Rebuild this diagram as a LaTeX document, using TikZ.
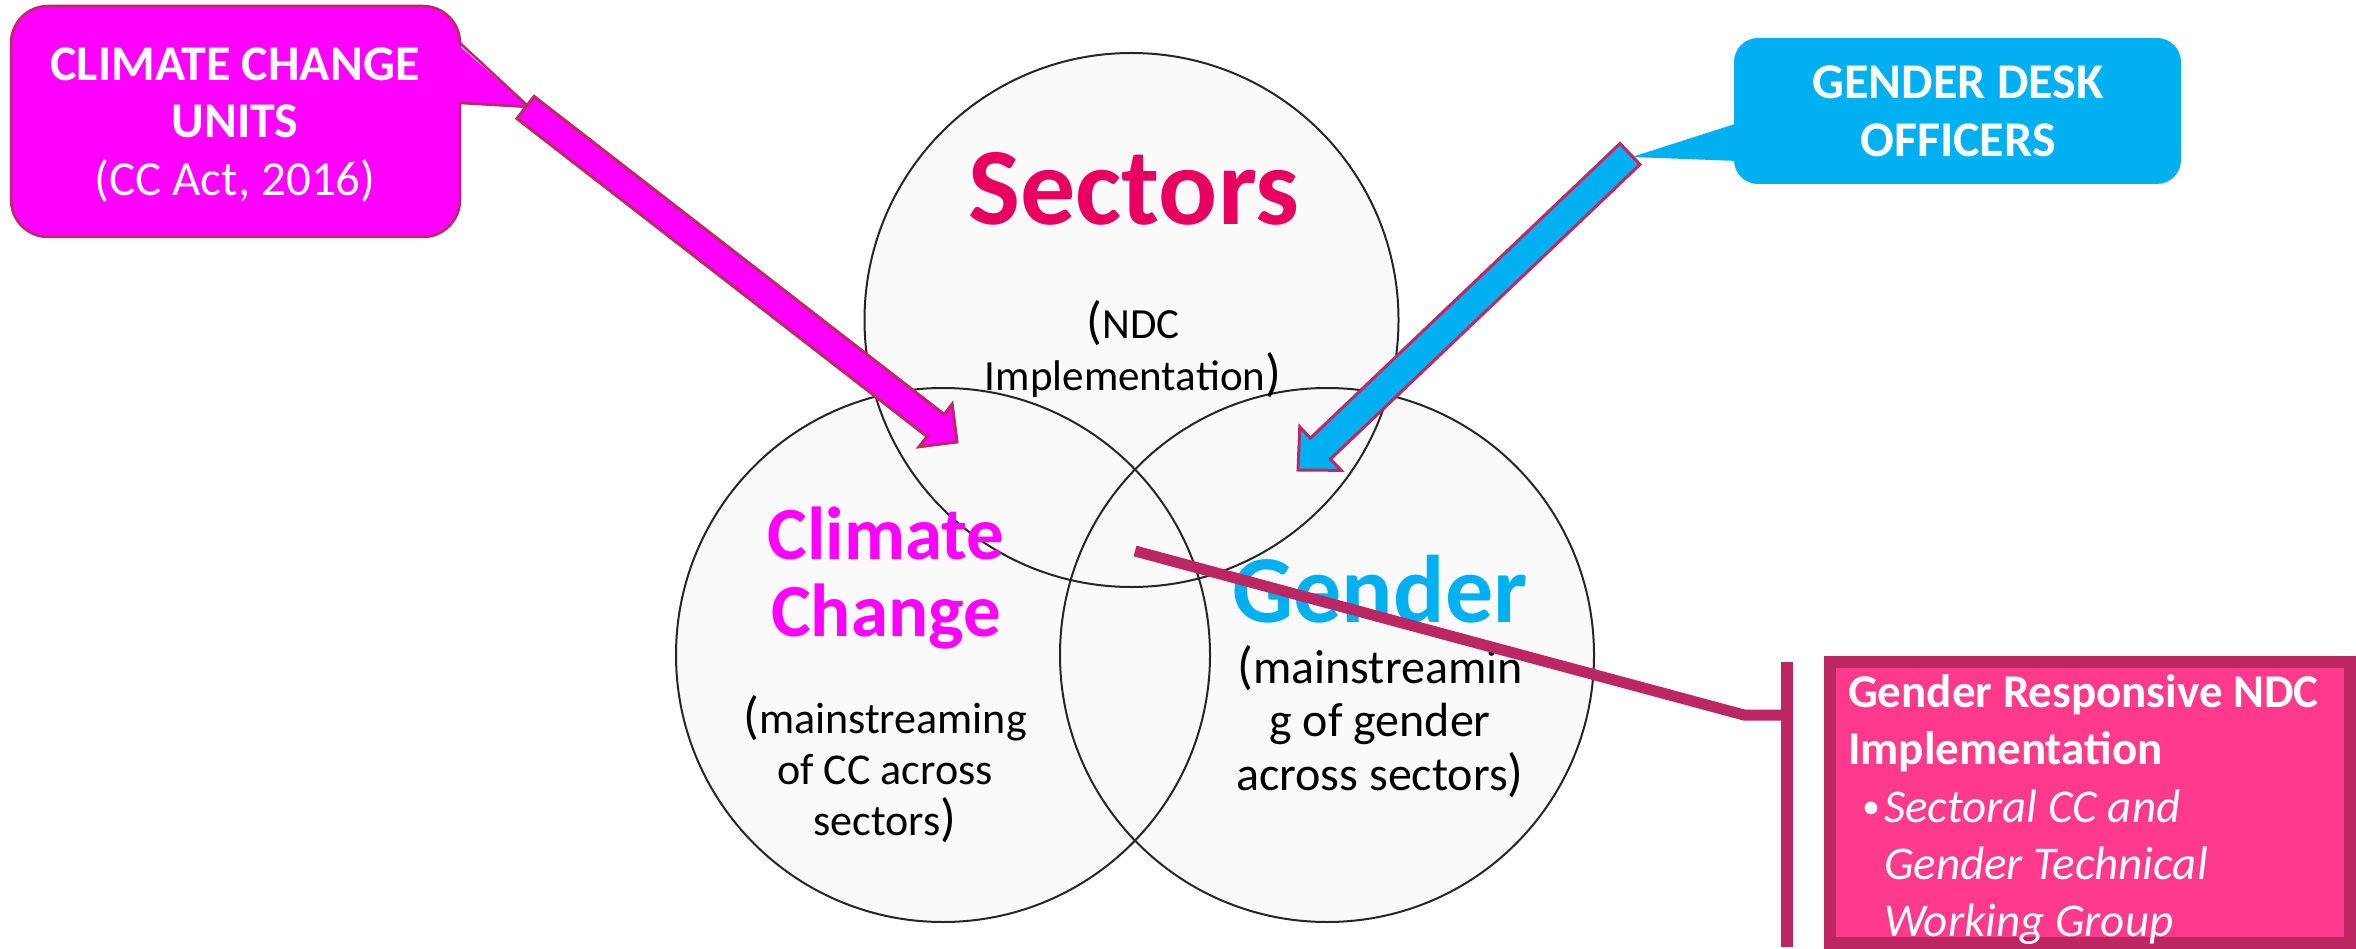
\documentclass[tikz,border=0pt]{standalone}
\usepackage{fontspec}
\setmainfont{Carlito}
\usetikzlibrary{calc}
\definecolor{ccmag}{RGB}{255,0,255}
\definecolor{gdcyan}{RGB}{0,176,240}
\definecolor{edgepink}{RGB}{190,40,100}
\definecolor{connpurple}{RGB}{188,38,98}
\definecolor{hotpink}{RGB}{255,58,140}
\definecolor{sectred}{RGB}{232,0,96}
\definecolor{vennfill}{RGB}{250,250,250}
\newcommand{\bp}[1]{{\fontsize{52}{52}\selectfont #1}}
\begin{document}
\begin{tikzpicture}[x=1pt,y=-1pt,
  vennc/.style={circle,minimum size=534pt,inner sep=0pt,fill=vennfill},
  vennline/.style={draw=black!85,line width=2pt},
  lbl/.style={anchor=base,inner sep=0pt,outer sep=0pt},
  lblw/.style={anchor=base west,inner sep=0pt,outer sep=0pt},
  fs/.style={font=\fontsize{#1}{#1}\selectfont},
  fatarrow/.style={line width=3pt,draw=edgepink,line join=miter},
  conn/.style={line width=11pt,draw=connpurple,line join=miter}]
\useasboundingbox (0,0) rectangle (2356,949);

% Venn circles: fills first, outlines after
\node[vennc] (sect) at (1131.5,320) {};
\node[vennc] (clim) at (943,655) {};
\node[vennc] (gend) at (1327,655) {};
\draw[vennline] (sect.center) circle[radius=267pt];
\draw[vennline] (clim.center) circle[radius=267pt];
\draw[vennline] (gend.center) circle[radius=267pt];

% circle texts
\node[lbl,fs=110,text=sectred] (sectT) at (1134,225) {\bfseries Sectors};
\node[lbl,fs=43] (ndc1) at (1133,339) {\bp{(}NDC};
\node[lbl,fs=43] (ndc2) at (1133,391) {Implementation\bp{)}};

\node[lbl,fs=75,text=ccmag] (climT1) at (886,559) {\bfseries Climate};
\node[lbl,fs=75,text=ccmag] (climT2) at (886,636) {\bfseries Change};
\node[lbl,fs=44] (clim1) at (885,733) {\bp{(}mainstreaming};
\node[lbl,fs=44] (clim2) at (885,784) {of CC across};
\node[lbl,fs=44] (clim3) at (885,835) {sectors\bp{)}};

\node[lbl,fs=96,text=gdcyan] (gendT) at (1380,622) {\bfseries Gender};
\node[lbl,fs=48] (gend1) at (1380,683) {\bp{(}mainstreamin};
\node[lbl,fs=48] (gend2) at (1380,736) {g of gender};
\node[lbl,fs=48] (gend3) at (1380,790) {across sectors\bp{)}};

% connector to the NDC box
\coordinate (c1) at (1135,551);
\coordinate (c2) at (1744,715);
\coordinate (c3) at (1787,715);
\coordinate (b1) at (1787,662);
\coordinate (b2) at (1787,947);
\draw[conn] (c1) -- (c2) -- (c3);
\draw[line width=12pt,draw=connpurple] (b1) -- (b2);

% magenta callout
\draw[fill=ccmag,draw=edgepink,line width=2.5pt,rounded corners=37pt] (11,6) rectangle (460,237);
\fill[ccmag] (456,43) -- (529,107) -- (456,103) -- cycle;
\draw[edgepink,line width=2.5pt,line join=miter] (460,43) -- (529,107) -- (460,103);
\node[lbl,fs=50,text=white] (ccu1) at (235,81) {\bfseries CLIMATE CHANGE};
\node[lbl,fs=50,text=white] (ccu2) at (235,138) {\bfseries UNITS};
\node[lbl,fs=49,text=white] (ccu3) at (235,196) {(CC Act, 2016)};

% cyan callout
\fill[gdcyan,rounded corners=24pt] (1734,38) rectangle (2181,184);
\fill[gdcyan] (1738,123) -- (1632,157) -- (1738,161) -- cycle;
\node[lbl,fs=50,text=white] (gdo1) at (1958,99) {\bfseries GENDER DESK};
\node[lbl,fs=50,text=white] (gdo2) at (1958,157) {\bfseries OFFICERS};

% magenta arrow
\coordinate (mtail) at (525.5,107.5);
\coordinate (mtip) at (957,442);
\coordinate (mbase) at ($(mtip)!27pt!(mtail)$);
\filldraw[fatarrow,fill=ccmag]
  ($(mtail)!14pt!90:(mtip)$) -- ($(mbase)!14pt!90:(mtip)$) -- ($(mbase)!27pt!90:(mtip)$)
  -- (mtip) -- ($(mbase)!27pt!-90:(mtip)$) -- ($(mbase)!14pt!-90:(mtip)$)
  -- ($(mtail)!14pt!-90:(mtip)$) -- cycle;

% cyan arrow
\coordinate (ctail) at (1630,154);
\coordinate (ctip) at (1298,470);
\coordinate (cbase) at ($(ctip)!31pt!(ctail)$);
\filldraw[fatarrow,fill=gdcyan]
  ($(ctail)!14.5pt!90:(ctip)$) -- ($(cbase)!14.5pt!90:(ctip)$) -- ($(cbase)!30pt!90:(ctip)$)
  -- (ctip) -- ($(cbase)!30pt!-90:(ctip)$) -- ($(cbase)!14.5pt!-90:(ctip)$)
  -- ($(ctail)!14.5pt!-90:(ctip)$) -- cycle;

% NDC box
\draw[line width=12pt,draw=connpurple,fill=hotpink] (1830,662) rectangle (2350,943);
\node[lblw,fs=47,text=white] (ndcb1) at (1848,707) {\bfseries Gender Responsive NDC};
\node[lblw,fs=47,text=white] (ndcb2) at (1848,764) {\bfseries Implementation};
\node[lblw,fs=36,text=white] (ndcb3) at (1862,818) {•};
\node[lblw,fs=47,text=white] (ndcb4) at (1884,822) {\itshape Sectoral CC and};
\node[lblw,fs=47,text=white] (ndcb5) at (1884,879) {\itshape Gender Technical};
\node[lblw,fs=47,text=white] (ndcb6) at (1884,936) {\itshape Working Group};
\end{tikzpicture}
\end{document}
